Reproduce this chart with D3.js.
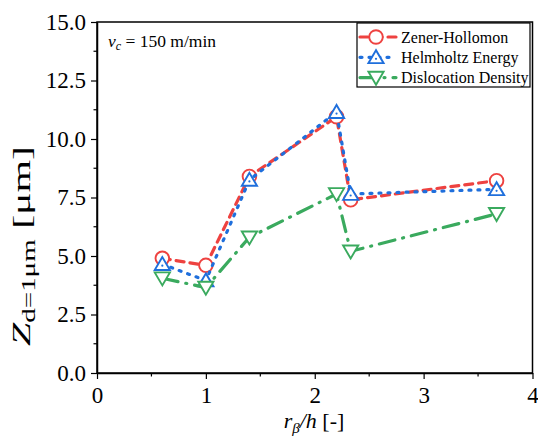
<!DOCTYPE html>
<html>
<head>
<meta charset="utf-8">
<script src="https://cdn.jsdelivr.net/npm/d3@7"></script>
<style>
  html, body { margin: 0; padding: 0; background: #fff; }
  svg { display: block; }
</style>
</head>
<body>
<svg id="chart" width="538" height="441"></svg>
<script>
// ---- data ----
const xValues = [0.6, 1.0, 1.4, 2.2, 2.33, 3.67];
const zenerHollomon = [4.9, 4.6, 8.4, 10.95, 7.4, 8.22];
const helmholtzEnergy = [4.65, 3.95, 8.25, 11.15, 7.65, 7.85];
const dislocationDensity = [4.05, 3.65, 5.8, 7.65, 5.2, 6.8];
const seriesNames = ["Zener-Hollomon", "Helmholtz Energy", "Dislocation Density"];
const xTicks = [0, 1, 2, 3, 4];
const yTicks = [0, 2.5, 5, 7.5, 10, 12.5, 15];

const series = [
  { name: seriesNames[0], values: zenerHollomon, color: "#ee4240", dash: "8,6", marker: "circle" },
  { name: seriesNames[1], values: helmholtzEnergy, color: "#1f6fdc", dash: "2,7", marker: "up" },
  { name: seriesNames[2], values: dislocationDensity, color: "#3aaa5e", dash: "16,8,1,8", marker: "down" }
];

const FONT = "Liberation Serif";
const svg = d3.select("#chart");
const L = 97, R = 532.5, T = 22, B = 373;
const x = d3.scaleLinear().domain([0, 4]).range([L, R]);
const y = d3.scaleLinear().domain([0, 15]).range([B, T]);

// frame
svg.append("rect").attr("x", L).attr("y", T).attr("width", R - L).attr("height", B - T)
  .attr("fill", "none").attr("stroke", "#000").attr("stroke-width", 1.5);

// axes
const yAxis = d3.axisLeft(y).tickValues(yTicks).tickFormat(d3.format(".1f")).tickSize(6).tickSizeOuter(0).tickPadding(5);
const gy = svg.append("g").attr("transform", `translate(${L},0)`).call(yAxis);
const xAxis = d3.axisBottom(x).tickValues(xTicks).tickFormat(d3.format("d")).tickSize(6).tickSizeOuter(0).tickPadding(8);
const gx = svg.append("g").attr("transform", `translate(0,${B})`).call(xAxis);
// minor ticks
const yMinor = d3.range(1.25, 15, 2.5);
svg.append("g").selectAll("line").data(yMinor).join("line")
  .attr("x1", L - 3.5).attr("x2", L).attr("y1", d => y(d)).attr("y2", d => y(d))
  .attr("stroke", "#000").attr("stroke-width", 1.2);
const xMinor = d3.range(0.5, 4, 1);
svg.append("g").selectAll("line").data(xMinor).join("line")
  .attr("y1", B).attr("y2", B + 3.5).attr("x1", d => x(d)).attr("x2", d => x(d))
  .attr("stroke", "#000").attr("stroke-width", 1.2);

[gx, gy].forEach(g => {
  g.attr("font-family", null).attr("font-size", null);
  g.select(".domain").attr("stroke-width", 1.5);
  g.selectAll(".tick line").attr("stroke-width", 1.2);
  g.selectAll(".tick text").attr("fill", "#000").attr("font-family", FONT).attr("font-size", 23)
    .style("font-family", FONT).style("font-size", "23px");
});

// markers
function drawMarker(g, type, cx, cy, color) {
  if (type === "circle") {
    g.append("circle").attr("cx", cx).attr("cy", cy).attr("r", 6.8)
      .attr("fill", "#fff").attr("stroke", color).attr("stroke-width", 1.9);
  } else {
    const s = 7.6, h = 13;
    let pts;
    if (type === "up") pts = [[cx, cy - h * 0.55], [cx - s, cy + h * 0.45], [cx + s, cy + h * 0.45]];
    else pts = [[cx, cy + h * 0.55], [cx - s, cy - h * 0.45], [cx + s, cy - h * 0.45]];
    g.append("path").attr("d", "M" + pts.map(p => p.join(",")).join("L") + "Z")
      .attr("fill", "#fff").attr("stroke", color).attr("stroke-width", 1.9).attr("stroke-linejoin", "miter");
    if (type === "up") {
      g.append("circle").attr("cx", cx).attr("cy", cy + 1.5).attr("r", 1.1).attr("fill", color);
    }
  }
}

const line = d3.line().x(d => x(d[0])).y(d => y(d[1]));
series.forEach(s => {
  const g = svg.append("g");
  const pts = xValues.map((xv, i) => [xv, s.values[i]]);
  g.append("path").datum(pts).attr("d", line).attr("fill", "none")
    .attr("stroke", s.color).attr("stroke-width", 3.2).attr("stroke-dasharray", s.dash)
    .attr("stroke-linecap", "round").attr("stroke-linejoin", "round");
  pts.forEach(p => drawMarker(g, s.marker, x(p[0]), y(p[1]), s.color));
});

// legend
const lg = svg.append("g");
lg.append("rect").attr("x", 357).attr("y", 23).attr("width", 173).attr("height", 64)
  .attr("fill", "#fff").attr("stroke", "#000").attr("stroke-width", 1.2);
series.forEach((s, i) => {
  const cy = 37 + i * 20.3;
  lg.append("line").attr("x1", 360).attr("x2", 396).attr("y1", cy).attr("y2", cy)
    .attr("stroke", s.color).attr("stroke-width", 3.2).attr("stroke-dasharray", s.dash)
    .attr("stroke-linecap", "round");
  drawMarker(lg, s.marker, 376, cy, s.color);
  lg.append("text").attr("x", 401).attr("y", cy + 5.5).attr("font-size", 16).attr("fill", "#000")
    .attr("font-family", FONT).style("font-family", FONT).text(s.name);
});

// annotation
const ann = svg.append("text").attr("x", 108).attr("y", 47).attr("font-size", 17.5).attr("fill", "#000")
  .attr("font-family", FONT).style("font-family", FONT);
ann.append("tspan").attr("font-style", "italic").text("v");
ann.append("tspan").attr("font-style", "italic").attr("font-size", 12).attr("dy", 3).text("c");
ann.append("tspan").attr("dy", -3).text(" = 150 m/min");

// x title
const xt = svg.append("text").attr("x", 314).attr("y", 428).attr("text-anchor", "middle")
  .attr("font-size", 22).attr("fill", "#000").attr("font-family", FONT).style("font-family", FONT);
xt.append("tspan").attr("font-style", "italic").text("r");
xt.append("tspan").attr("font-style", "italic").attr("font-size", 15).attr("dy", 5).text("β");
xt.append("tspan").attr("font-style", "italic").attr("dy", -5).text("/h");
xt.append("tspan").text(" [-]");

// y title
const yt = svg.append("text").attr("transform", "translate(30,246) rotate(-90)")
  .attr("text-anchor", "middle").attr("font-size", 26).attr("fill", "#000")
  .attr("font-family", FONT).style("font-family", FONT)
  .attr("textLength", 200).attr("lengthAdjust", "spacingAndGlyphs");
yt.append("tspan").attr("font-style", "italic").text("Z");
yt.append("tspan").attr("font-size", 18).attr("dy", 5).text("d=1μm");
yt.append("tspan").attr("dy", -5).text(" [μm]");
</script>
</body>
</html>
